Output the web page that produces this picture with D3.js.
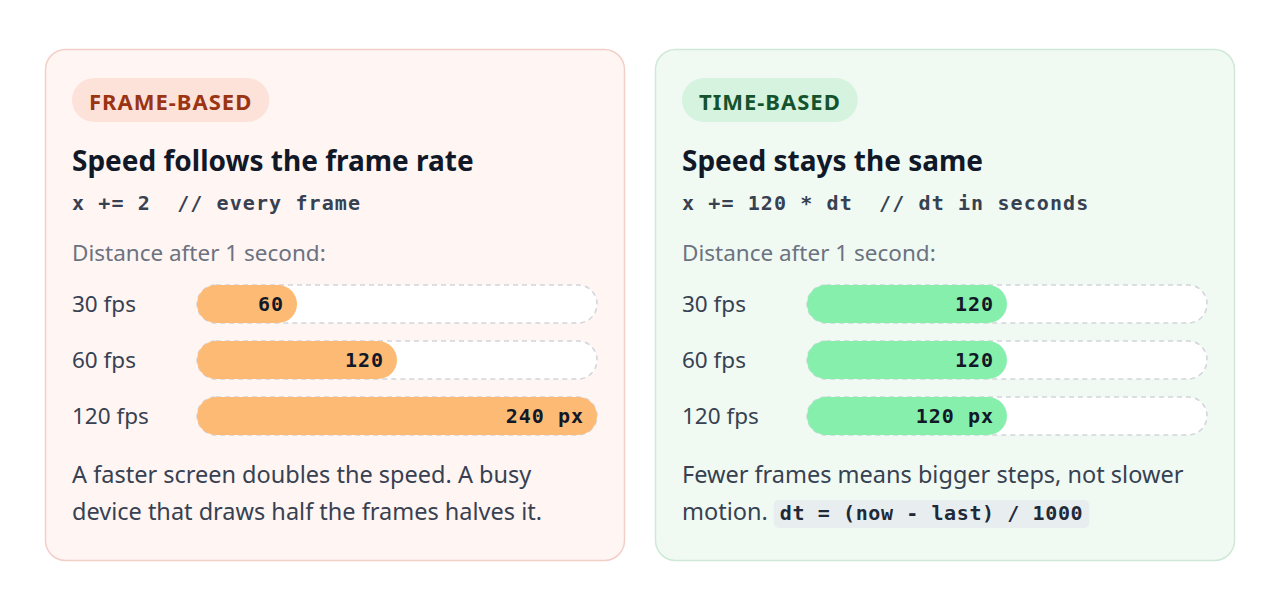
<!DOCTYPE html>
<html><head><meta charset="utf-8">
<script src="https://cdn.jsdelivr.net/npm/d3@7"></script>
<style>body{margin:0;background:#fff}svg{display:block}</style>
</head><body>
<svg id="c" width="1280" height="614"></svg>
<script>
const categories = ["30 fps","60 fps","120 fps"];
const frameValues = [60,120,240];
const timeValues = [120,120,120];
const frameLabels = ["60","120","240 px"];
const timeLabels = ["120","120","120 px"];
const panels = [
 {x:45,badge:"FRAME-BASED",title:"Speed follows the frame rate",code:"x += 2  // every frame",
  vals:frameValues,labels:frameLabels,bg:"#fff5f3",border:"#f3cfc8",badgeBg:"#fde2da",badgeFg:"#9a3412",bar:"#fdba74",
  desc:["A faster screen doubles the speed. A busy","device that draws half the frames halves it."]},
 {x:655,badge:"TIME-BASED",title:"Speed stays the same",code:"x += 120 * dt  // dt in seconds",
  vals:timeValues,labels:timeLabels,bg:"#f0faf3",border:"#cfe9d7",badgeBg:"#d5f3de",badgeFg:"#14532d",bar:"#86efac",
  desc:["Fewer frames means bigger steps, not slower","motion."], codeTail:"dt = (now - last) / 1000"}
];
const svg=d3.select("#c");
const sans="'Noto Sans', 'Open Sans', sans-serif", mono="'DejaVu Sans Mono', monospace";
const x=d3.scaleLinear().domain([0,240]).range([0,400]);
const y=d3.scaleBand().domain(categories).range([285,435]).paddingInner(0.32).paddingOuter(0);
panels.forEach(p=>{
 const g=svg.append("g").attr("transform",`translate(${p.x},49)`);
 g.append("rect").attr("x",0.5).attr("y",0.5).attr("width",579).attr("height",511).attr("rx",20)
  .attr("fill",p.bg).attr("stroke",p.border).attr("stroke-width",1.5);
 const badgeRect=g.append("rect").attr("x",27).attr("y",29).attr("height",44).attr("rx",22).attr("fill",p.badgeBg);
 const b=g.append("text").attr("x",44).attr("y",61).attr("font-family",sans).attr("font-weight",700)
  .attr("font-size",22).attr("fill",p.badgeFg).attr("letter-spacing",1).text(p.badge);
 badgeRect.attr("width",b.node().getComputedTextLength()+34);
 g.append("text").attr("x",27).attr("y",122).attr("font-family",sans).attr("font-weight",700).attr("font-size",28).attr("fill","#111827").text(p.title);
 g.append("text").attr("x",27).attr("y",161).attr("font-family",mono).attr("font-weight",700).attr("font-size",20).attr("letter-spacing",1.1).attr("fill","#374151").style("white-space","pre").text(p.code);
 g.append("text").attr("x",27).attr("y",212).attr("font-family",sans).attr("font-size",22.5).attr("fill","#6b7280").text("Distance after 1 second:");
 const rows=g.append("g").attr("transform","translate(0,-49)");
 categories.forEach((c,i)=>{
  const yy=y(c), h=y.bandwidth();
  rows.append("text").attr("x",27).attr("y",yy+h/2+8).attr("font-family",sans).attr("font-size",22.5).attr("fill","#374151").text(c);
  rows.append("rect").attr("x",152).attr("y",yy).attr("width",x(240)).attr("height",h).attr("rx",h/2)
   .attr("fill","#fff").attr("stroke","#d1d5db").attr("stroke-width",1.5).attr("stroke-dasharray","5,4");
  rows.append("rect").attr("x",152).attr("y",yy).attr("width",x(p.vals[i])).attr("height",h).attr("rx",h/2).attr("fill",p.bar);
  rows.append("text").attr("x",152+x(p.vals[i])-13).attr("y",yy+h/2+7).attr("text-anchor","end")
   .attr("font-family",mono).attr("font-weight",700).attr("font-size",20).attr("letter-spacing",1).attr("fill","#111827").text(p.labels[i]);
 });
 const descT=p.desc.map((d,i)=>g.append("text").attr("x",27).attr("y",434+i*37).attr("font-family",sans).attr("font-size",23.5).attr("fill","#374151").text(d));
 if(p.codeTail){
  const w=descT[1].node().getComputedTextLength();
  const r=g.append("rect").attr("x",27+w+6).attr("y",451).attr("height",28).attr("rx",5).attr("fill","#e8eef0");
  const t=g.append("text").attr("x",27+w+12).attr("y",471).attr("font-family",mono).attr("font-weight",700).attr("font-size",20).attr("letter-spacing",0.6).attr("fill","#1f2937").style("white-space","pre").text(p.codeTail);
  r.attr("width",t.node().getComputedTextLength()+12);
 }
});
</script>
</body></html>
